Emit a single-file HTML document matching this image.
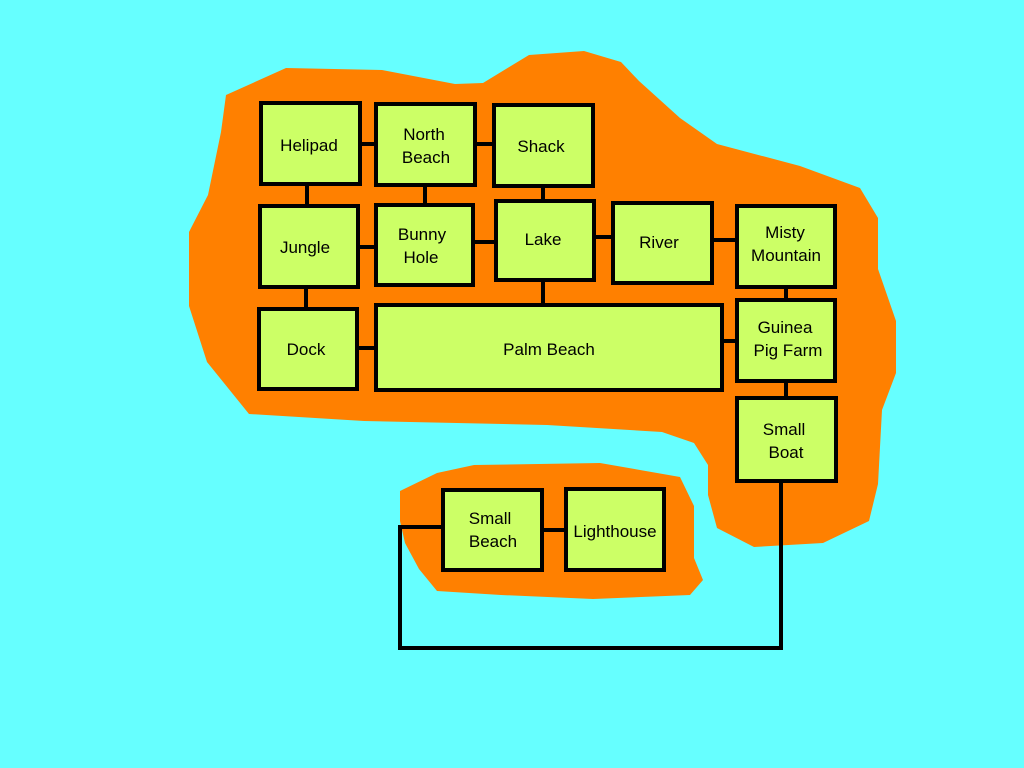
<!DOCTYPE html>
<html><head><meta charset="utf-8"><style>
html,body{margin:0;padding:0;background:#66ffff;width:1024px;height:768px;overflow:hidden}
text{font-family:"Liberation Sans",sans-serif;font-size:17px;fill:#000}
</style></head><body>
<svg width="1024" height="768" viewBox="0 0 1024 768" xmlns="http://www.w3.org/2000/svg">
<rect width="1024" height="768" fill="#66ffff"/>
<path fill="#ff8000" d="M226,95 L286,68 L382,70 L455,84 L483,83 L529,55 L584,51 L621,62 L639,81 L680,118 L717,144 L800,166 L860,188 L878,218 L878,269 L896,321 L896,373 L882,410 L878,484 L869,521 L823,543 L754,547 L717,528 L708,495 L708,465 L694,443 L662,432 L547,425 L364,421 L249,414 L207,362 L189,306 L189,232 L208,195 L221,132 Z"/>
<path fill="#ff8000" d="M400,491 L437,473 L474,465 L600,463 L680,477 L694,506 L694,558 L703,580 L690,595 L593,599 L501,595 L437,591 L419,569 L405,543 L400,521 Z"/>
<g stroke="#000" stroke-width="4" fill="none">
<line x1="361" y1="144" x2="375" y2="144"/>
<line x1="476" y1="144" x2="493" y2="144"/>
<line x1="307" y1="185" x2="307" y2="205"/>
<line x1="425" y1="186" x2="425" y2="204"/>
<line x1="543" y1="187" x2="543" y2="200"/>
<line x1="359" y1="247" x2="375" y2="247"/>
<line x1="474" y1="242" x2="495" y2="242"/>
<line x1="595" y1="237" x2="612" y2="237"/>
<line x1="713" y1="240" x2="736" y2="240"/>
<line x1="306" y1="288" x2="306" y2="308"/>
<line x1="543" y1="281" x2="543" y2="304"/>
<line x1="358" y1="348" x2="375" y2="348"/>
<line x1="723" y1="341" x2="736" y2="341"/>
<line x1="786" y1="288" x2="786" y2="299"/>
<line x1="786" y1="382" x2="786" y2="397"/>
<line x1="543" y1="530" x2="565" y2="530"/>
<polyline points="781,482 781,648 400,648 400,527 442,527"/>
</g>
<g fill="#ccff66" stroke="#000" stroke-width="4">
<rect x="261" y="103" width="99" height="81"/>
<rect x="376" y="104" width="99" height="81"/>
<rect x="494" y="105" width="99" height="81"/>
<rect x="260" y="206" width="98" height="81"/>
<rect x="376" y="205" width="97" height="80"/>
<rect x="496" y="201" width="98" height="79"/>
<rect x="613" y="203" width="99" height="80"/>
<rect x="737" y="206" width="98" height="81"/>
<rect x="259" y="309" width="98" height="80"/>
<rect x="376" y="305" width="346" height="85"/>
<rect x="737" y="300" width="98" height="81"/>
<rect x="737" y="398" width="99" height="83"/>
<rect x="443" y="490" width="99" height="80"/>
<rect x="566" y="489" width="98" height="81"/>
</g>
<g text-anchor="middle">
<text x="309" y="151">Helipad</text>
<text x="424" y="140">North</text><text x="426" y="163">Beach</text>
<text x="541" y="152">Shack</text>
<text x="305" y="253">Jungle</text>
<text x="422" y="240">Bunny</text><text x="421" y="263">Hole</text>
<text x="543" y="245">Lake</text>
<text x="659" y="248">River</text>
<text x="785" y="238">Misty</text><text x="786" y="261">Mountain</text>
<text x="306" y="355">Dock</text>
<text x="549" y="355">Palm Beach</text>
<text x="785" y="333">Guinea</text><text x="788" y="356">Pig Farm</text>
<text x="784" y="435">Small</text><text x="786" y="458">Boat</text>
<text x="490" y="524">Small</text><text x="493" y="547">Beach</text>
<text x="615" y="537">Lighthouse</text>
</g>
</svg>
</body></html>
